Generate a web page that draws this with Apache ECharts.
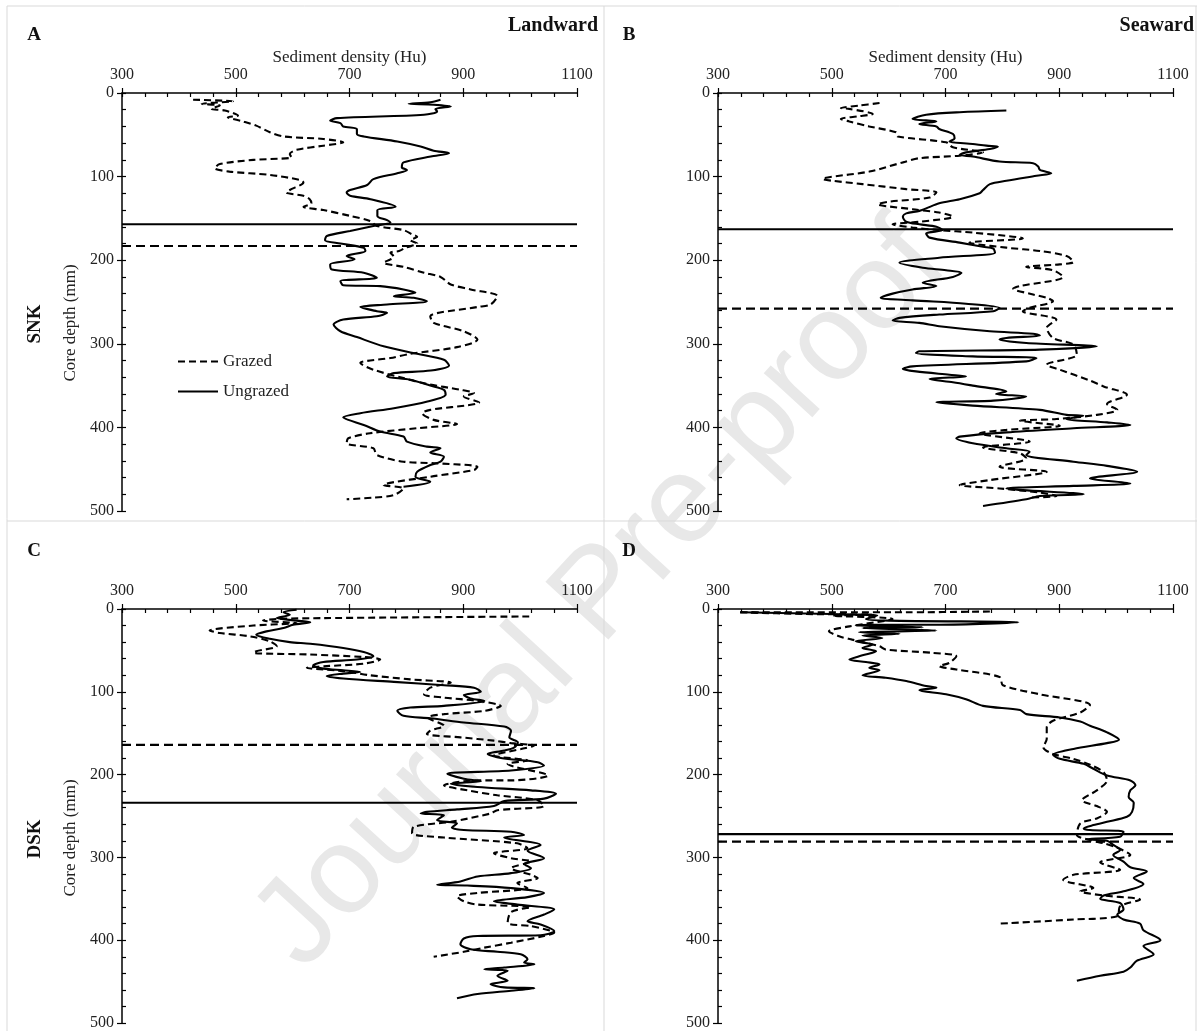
<!DOCTYPE html>
<html><head><meta charset="utf-8">
<script src="https://cdn.jsdelivr.net/npm/echarts@6/dist/echarts.min.js"></script>
<style>html,body{margin:0;padding:0;background:#fff}#c{width:1197px;height:1031px}</style>
</head><body><div id="c"></div>
<script>
// ---- axis ticks ----
const densityTicks = [300, 500, 700, 900, 1100];
const densityMinorStep = 40;
const depthTicks = [0, 100, 200, 300, 400, 500];
const depthMinorStep = 20;
const seriesNames = ['Grazed', 'Ungrazed'];
const panelLabels = ['A', 'B', 'C', 'D'];
const siteLabels = ['SNK', 'DSK'];
const positionLabels = ['Landward', 'Seaward'];

// ---- data: [sediment density (Hu), core depth (mm)] ----
const snkLandGrazed = [[425,8],[495,10],[440,13],[472,15],[457,19],[481,21],[504,27],[486,29],[513,34],[536,39],[560,47],[584,52],[654,55],[689,59],[654,63],[607,68],[595,73],[598,77],[531,80],[472,85],[463,90],[489,94],[560,98],[613,104],[619,107],[595,116],[589,119],[619,123],[630,127],[633,132],[619,136],[654,140],[701,147],[736,153],[748,159],[795,164],[810,169],[819,172],[807,176],[819,180],[799,185],[787,189],[772,191],[778,196],[772,199],[760,203],[795,208],[831,215],[860,220],[878,229],[913,235],[960,243],[948,253],[925,256],[842,267],[848,275],[901,285],[925,295],[889,304],[807,312],[772,317],[719,323],[742,331],[795,341],[836,348],[895,355],[919,359],[901,363],[928,370],[842,379],[828,383],[848,391],[889,396],[819,401],[736,407],[698,413],[695,419],[742,425],[748,433],[795,441],[854,443],[925,447],[919,451],[842,459],[760,469],[795,473],[778,481],[742,484],[695,486]];
const snkLandUngrazed = [[860,8],[842,11],[804,13],[848,14],[878,16],[851,19],[854,22],[831,26],[678,30],[666,33],[684,36],[689,40],[713,43],[713,49],[725,52],[784,58],[825,64],[848,69],[875,72],[843,76],[795,83],[792,89],[801,92],[784,96],[742,103],[731,110],[701,116],[695,119],[701,123],[737,127],[781,136],[749,140],[749,147],[766,152],[772,155],[742,159],[701,165],[660,171],[657,176],[684,180],[725,185],[728,189],[695,195],[709,199],[666,205],[669,211],[725,215],[748,221],[684,225],[689,230],[754,231],[795,235],[816,239],[778,243],[813,245],[836,249],[766,253],[719,256],[748,261],[766,263],[748,267],[689,271],[672,277],[684,285],[713,292],[760,303],[819,312],[866,319],[875,326],[843,332],[778,335],[766,339],[807,343],[842,350],[866,355],[869,361],[837,369],[778,377],[719,383],[689,388],[698,391],[725,397],[754,405],[795,411],[801,417],[836,423],[860,425],[842,430],[866,435],[860,441],[842,445],[819,453],[816,459],[842,465],[795,471]];
const snkSeaGrazed = [[584,12],[548,15],[516,18],[531,19],[572,25],[545,28],[516,31],[531,34],[566,40],[613,47],[616,52],[701,59],[713,65],[766,71],[725,75],[654,78],[625,83],[566,94],[484,103],[501,105],[554,109],[631,115],[684,119],[672,125],[601,130],[581,133],[642,139],[689,143],[713,148],[654,154],[607,157],[642,161],[689,164],[748,167],[836,174],[742,179],[807,185],[866,189],[913,195],[925,202],[901,205],[842,208],[889,212],[907,220],[831,231],[819,234],[854,241],[878,245],[889,249],[848,257],[836,261],[895,271],[878,281],[889,293],[925,301],[931,313],[878,325],[901,331],[954,344],[978,351],[1019,361],[984,372],[1002,379],[966,385],[895,390],[831,392],[901,398],[807,403],[760,407],[848,417],[766,424],[831,431],[842,437],[795,447],[878,453],[778,463],[725,469],[795,473],[866,478],[895,482],[848,484]];
const snkSeaUngrazed = [[807,21],[725,23],[666,26],[642,31],[684,34],[654,37],[684,40],[689,43],[713,49],[716,54],[707,58],[748,61],[772,63],[792,64],[778,67],[736,71],[725,74],[748,76],[795,82],[854,84],[863,88],[866,92],[886,96],[860,99],[807,105],[778,109],[766,116],[760,120],[725,127],[689,132],[666,138],[654,141],[631,144],[625,148],[631,154],[654,157],[684,160],[695,164],[666,168],[672,173],[725,179],[766,184],[784,186],[787,191],[689,197],[619,203],[660,209],[701,212],[728,215],[713,220],[660,227],[684,231],[642,235],[607,240],[586,245],[642,248],[736,252],[795,257],[784,261],[689,265],[619,269],[607,272],[654,275],[689,279],[778,285],[854,288],[866,290],[807,293],[795,295],[842,299],[966,303],[866,307],[654,309],[648,311],[748,315],[860,317],[842,321],[642,327],[625,330],[648,333],[707,337],[736,339],[672,342],[713,346],[748,350],[807,357],[789,360],[842,363],[784,368],[684,370],[748,374],[866,379],[913,385],[942,386],[913,390],[984,394],[1025,397],[925,401],[807,406],[725,411],[719,413],[748,419],[807,425],[848,429],[842,433],[925,441],[984,446],[1037,453],[954,461],[1025,467],[925,470],[807,473],[836,475],[943,480],[866,482],[842,486],[766,494]];
const dskLandGrazed = [[1016,9],[654,11],[572,12],[548,14],[607,17],[531,20],[454,26],[472,29],[525,33],[560,39],[572,45],[536,51],[531,53],[631,55],[725,58],[754,61],[725,66],[660,69],[625,71],[689,75],[736,80],[807,85],[878,89],[842,95],[831,103],[866,107],[925,111],[966,117],[937,123],[866,127],[837,131],[866,141],[842,147],[836,151],[895,155],[954,159],[984,162],[1025,165],[1002,169],[954,177],[1013,183],[978,187],[1049,201],[984,207],[925,207],[866,213],[907,219],[960,225],[1031,231],[1042,238],[960,243],[948,247],[878,257],[813,263],[810,271],[866,276],[995,283],[1013,289],[954,295],[984,301],[1019,305],[984,313],[1019,321],[1031,325],[995,331],[1013,337],[925,343],[889,347],[901,353],[925,357],[1019,360],[984,366],[978,379],[1019,383],[1060,391],[1042,395],[984,403],[937,409],[901,414],[848,420]];
const dskLandUngrazed = [[607,1],[584,4],[595,7],[572,11],[607,14],[631,16],[601,19],[584,23],[554,27],[536,31],[560,36],[595,40],[631,42],[689,47],[725,52],[742,57],[713,61],[654,64],[636,68],[654,72],[689,74],[719,76],[689,78],[660,81],[689,84],[778,88],[866,92],[919,95],[931,100],[901,104],[913,108],[937,111],[866,117],[807,119],[784,123],[795,129],[842,132],[901,137],[972,142],[984,147],[981,155],[996,161],[990,167],[972,171],[943,175],[966,180],[1031,185],[1042,189],[984,195],[872,199],[901,205],[931,208],[878,211],[925,215],[1019,219],[1063,223],[1042,229],[972,232],[954,238],[889,242],[836,245],[825,247],[866,249],[854,255],[889,259],[880,264],[901,267],[984,269],[1007,273],[972,276],[1036,285],[1013,292],[1042,301],[1007,308],[1019,313],[984,319],[925,323],[895,329],[854,333],[907,334],[984,337],[1042,343],[1013,348],[954,353],[995,357],[1060,363],[1042,369],[1013,377],[1036,381],[1060,389],[1036,394],[925,395],[901,398],[895,405],[913,411],[960,414],[1001,417],[1013,423],[1007,427],[1025,429],[972,433],[937,435],[978,437],[960,443],[978,449],[948,453],[972,457],[1025,458],[984,461],[925,465],[889,470]];
const dskSeaGrazed = [[778,3],[631,4],[336,4],[454,6],[572,7],[501,8],[607,12],[531,21],[495,27],[513,33],[536,37],[584,45],[595,49],[677,53],[719,57],[707,65],[689,69],[719,73],[795,82],[801,92],[866,103],[954,116],[937,125],[889,135],[878,143],[878,157],[872,167],[889,175],[925,181],[954,188],[978,197],[984,207],[966,219],[940,231],[966,238],[984,245],[966,253],[937,259],[931,273],[954,279],[978,283],[1001,288],[1025,297],[972,306],[1007,315],[925,321],[907,327],[960,337],[937,341],[978,346],[1042,351],[1007,359],[1002,371],[925,375],[795,380]];
const dskSeaUngrazed = [[340,4],[500,6],[580,8],[560,12],[600,14],[828,16],[689,19],[572,19],[542,20],[660,22],[554,23],[684,26],[548,28],[619,30],[554,32],[589,35],[542,39],[572,43],[554,47],[578,51],[554,56],[531,61],[560,64],[584,67],[566,71],[584,74],[554,80],[595,83],[631,87],[666,93],[684,95],[654,98],[701,103],[736,109],[766,117],[831,122],[842,127],[901,131],[937,136],[954,141],[984,149],[1005,158],[984,162],[925,169],[889,176],[901,181],[943,187],[960,193],[984,201],[1025,207],[1034,213],[1025,219],[1022,227],[1031,234],[1028,245],[1019,251],[984,257],[960,261],[943,265],[954,267],[1013,269],[1007,275],[948,278],[984,280],[995,285],[1007,291],[995,297],[1013,305],[1025,312],[1054,317],[1031,325],[1048,332],[1013,341],[978,346],[972,350],[1007,355],[1013,363],[1002,369],[1013,375],[1042,380],[1048,388],[1078,400],[1048,407],[1066,417],[1036,425],[1025,433],[1013,438],[972,443],[931,449]];

// boundary depths (mm): [grazed, ungrazed]
const snkLandBounds = [183, 157];
const snkSeaBounds = [258, 163];
const dskLandBounds = [164, 234];
const dskSeaBounds = [281, 272];

const panelData = [
  [snkLandGrazed, snkLandUngrazed, snkLandBounds],
  [snkSeaGrazed, snkSeaUngrazed, snkSeaBounds],
  [dskLandGrazed, dskLandUngrazed, dskLandBounds],
  [dskSeaGrazed, dskSeaUngrazed, dskSeaBounds]
];

const serif = '"Liberation Serif", "Times New Roman", serif';
const dMin = densityTicks[0], dMax = densityTicks[densityTicks.length - 1];
const dStep = densityTicks[1] - densityTicks[0];
const zMin = depthTicks[0], zMax = depthTicks[depthTicks.length - 1];
const zStep = depthTicks[1] - depthTicks[0];
const plain = v => String(v);

const grids = [
  {left: 122, top: 93, width: 455, height: 418},
  {left: 718, top: 93, width: 455, height: 418},
  {left: 122, top: 609, width: 455, height: 416},
  {left: 718, top: 609, width: 455, height: 416}
];

const xAxes = [], yAxes = [], series = [];
grids.forEach((g, i) => {
  xAxes.push({
    gridIndex: i, type: 'value', position: 'top', min: dMin, max: dMax, interval: dStep,
    name: i < 2 ? 'Sediment density (Hu)' : '', nameLocation: 'middle', nameGap: 27,
    nameTextStyle: {fontFamily: serif, fontSize: 17, color: '#222'},
    axisLine: {show: true, onZero: false, lineStyle: {color: '#000', width: 1.5}},
    axisTick: {show: true, length: 5, lineStyle: {color: '#000', width: 1.2}},
    axisLabel: {fontFamily: serif, fontSize: 16, color: '#222', margin: 10, formatter: plain},
    splitLine: {show: false}
  });
  yAxes.push({
    gridIndex: i, type: 'value', position: 'left', inverse: true, min: zMin, max: zMax, interval: zStep,
    axisLine: {show: true, onZero: false, lineStyle: {color: '#000', width: 1.5}},
    axisTick: {show: true, length: 5, lineStyle: {color: '#000', width: 1.2}},
    axisLabel: {fontFamily: serif, fontSize: 16, color: '#222', margin: 8, formatter: plain},
    splitLine: {show: false}
  });
});
// overlay axes for the inside minor ticks
grids.forEach((g, i) => {
  xAxes.push({
    gridIndex: i, type: 'value', position: 'top', min: dMin, max: dMax, interval: densityMinorStep,
    axisLine: {show: false, onZero: false}, axisLabel: {show: false}, splitLine: {show: false},
    axisTick: {show: true, inside: true, length: 4, lineStyle: {color: '#000', width: 1.2}}
  });
  yAxes.push({
    gridIndex: i, type: 'value', position: 'left', offset: 0, inverse: true, min: zMin, max: zMax, interval: depthMinorStep,
    axisLine: {show: false, onZero: false}, axisLabel: {show: false}, splitLine: {show: false},
    axisTick: {show: true, inside: true, length: 4, lineStyle: {color: '#000', width: 1.2}}
  });
});

panelData.forEach((pd, i) => {
  const [grazed, ungrazed, bounds] = pd;
  series.push({
    name: seriesNames[0], type: 'line', xAxisIndex: i, yAxisIndex: i, data: grazed,
    symbol: 'none', showSymbol: false, smooth: 0.3, silent: true, z: 3,
    lineStyle: {color: '#000', width: 2.1, type: [7, 4]}, itemStyle: {color: '#000'}
  });
  series.push({
    name: seriesNames[1], type: 'line', xAxisIndex: i, yAxisIndex: i, data: ungrazed,
    symbol: 'none', showSymbol: false, smooth: 0.3, silent: true, z: 4,
    lineStyle: {color: '#000', width: 2.1, type: 'solid'}, itemStyle: {color: '#000'}
  });
  series.push({
    name: seriesNames[0] + ' boundary', type: 'line', xAxisIndex: i, yAxisIndex: i,
    data: [[dMin, bounds[0]], [dMax, bounds[0]]], symbol: 'none', silent: true, z: 3,
    lineStyle: {color: '#000', width: 2.2, type: [9, 5]}
  });
  series.push({
    name: seriesNames[1] + ' boundary', type: 'line', xAxisIndex: i, yAxisIndex: i,
    data: [[dMin, bounds[1]], [dMax, bounds[1]]], symbol: 'none', silent: true, z: 3,
    lineStyle: {color: '#000', width: 2.2, type: 'solid'}
  });
});

const sep = '#d9d9d9';
const graphic = [
  {type: 'text', x: 602, y: 596, rotation: 47.5 * Math.PI / 180, z: 0, silent: true,
   style: {text: 'Journal Pre-proof', font: '124px "Liberation Sans", Arial, sans-serif', fill: '#e8e8e8', align: 'center', verticalAlign: 'middle'}},
  {type: 'line', z: 1, shape: {x1: 7, y1: 6, x2: 1197, y2: 6}, style: {stroke: sep, lineWidth: 1}},
  {type: 'line', z: 1, shape: {x1: 7, y1: 6, x2: 7, y2: 1031}, style: {stroke: sep, lineWidth: 1}},
  {type: 'line', z: 1, shape: {x1: 1196, y1: 6, x2: 1196, y2: 1031}, style: {stroke: sep, lineWidth: 1}},
  {type: 'line', z: 1, shape: {x1: 604, y1: 6, x2: 604, y2: 1031}, style: {stroke: sep, lineWidth: 1}},
  {type: 'line', z: 1, shape: {x1: 7, y1: 521, x2: 1197, y2: 521}, style: {stroke: sep, lineWidth: 1}},
  {type: 'text', x: 34, y: 35, style: {text: panelLabels[0], font: 'bold 19px ' + serif, fill: '#111', align: 'center', verticalAlign: 'middle'}},
  {type: 'text', x: 629, y: 35, style: {text: panelLabels[1], font: 'bold 19px ' + serif, fill: '#111', align: 'center', verticalAlign: 'middle'}},
  {type: 'text', x: 34, y: 551, style: {text: panelLabels[2], font: 'bold 19px ' + serif, fill: '#111', align: 'center', verticalAlign: 'middle'}},
  {type: 'text', x: 629, y: 551, style: {text: panelLabels[3], font: 'bold 19px ' + serif, fill: '#111', align: 'center', verticalAlign: 'middle'}},
  {type: 'text', x: 598, y: 26, style: {text: positionLabels[0], font: 'bold 20px ' + serif, fill: '#111', align: 'right', verticalAlign: 'middle'}},
  {type: 'text', x: 1194, y: 26, style: {text: positionLabels[1], font: 'bold 20px ' + serif, fill: '#111', align: 'right', verticalAlign: 'middle'}},
  {type: 'text', x: 35, y: 324, rotation: Math.PI / 2, style: {text: siteLabels[0], font: 'bold 19px ' + serif, fill: '#111', align: 'center', verticalAlign: 'middle'}},
  {type: 'text', x: 35, y: 839, rotation: Math.PI / 2, style: {text: siteLabels[1], font: 'bold 19px ' + serif, fill: '#111', align: 'center', verticalAlign: 'middle'}},
  {type: 'text', x: 71, y: 323, rotation: Math.PI / 2, style: {text: 'Core depth (mm)', font: '17px ' + serif, fill: '#222', align: 'center', verticalAlign: 'middle'}},
  {type: 'text', x: 71, y: 838, rotation: Math.PI / 2, style: {text: 'Core depth (mm)', font: '17px ' + serif, fill: '#222', align: 'center', verticalAlign: 'middle'}}
];

const chart = echarts.init(document.getElementById('c'), null, {renderer: 'canvas'});
chart.setOption({
  animation: false,
  backgroundColor: '#fff',
  grid: grids,
  xAxis: xAxes,
  yAxis: yAxes,
  legend: {
    left: 172, top: 348, orient: 'vertical', itemWidth: 40, itemHeight: 14, itemGap: 13,
    selectedMode: false, data: seriesNames,
    itemStyle: {opacity: 0},
    textStyle: {fontFamily: serif, fontSize: 17, color: '#222'}
  },
  graphic: graphic,
  series: series
});
</script>
</body></html>
